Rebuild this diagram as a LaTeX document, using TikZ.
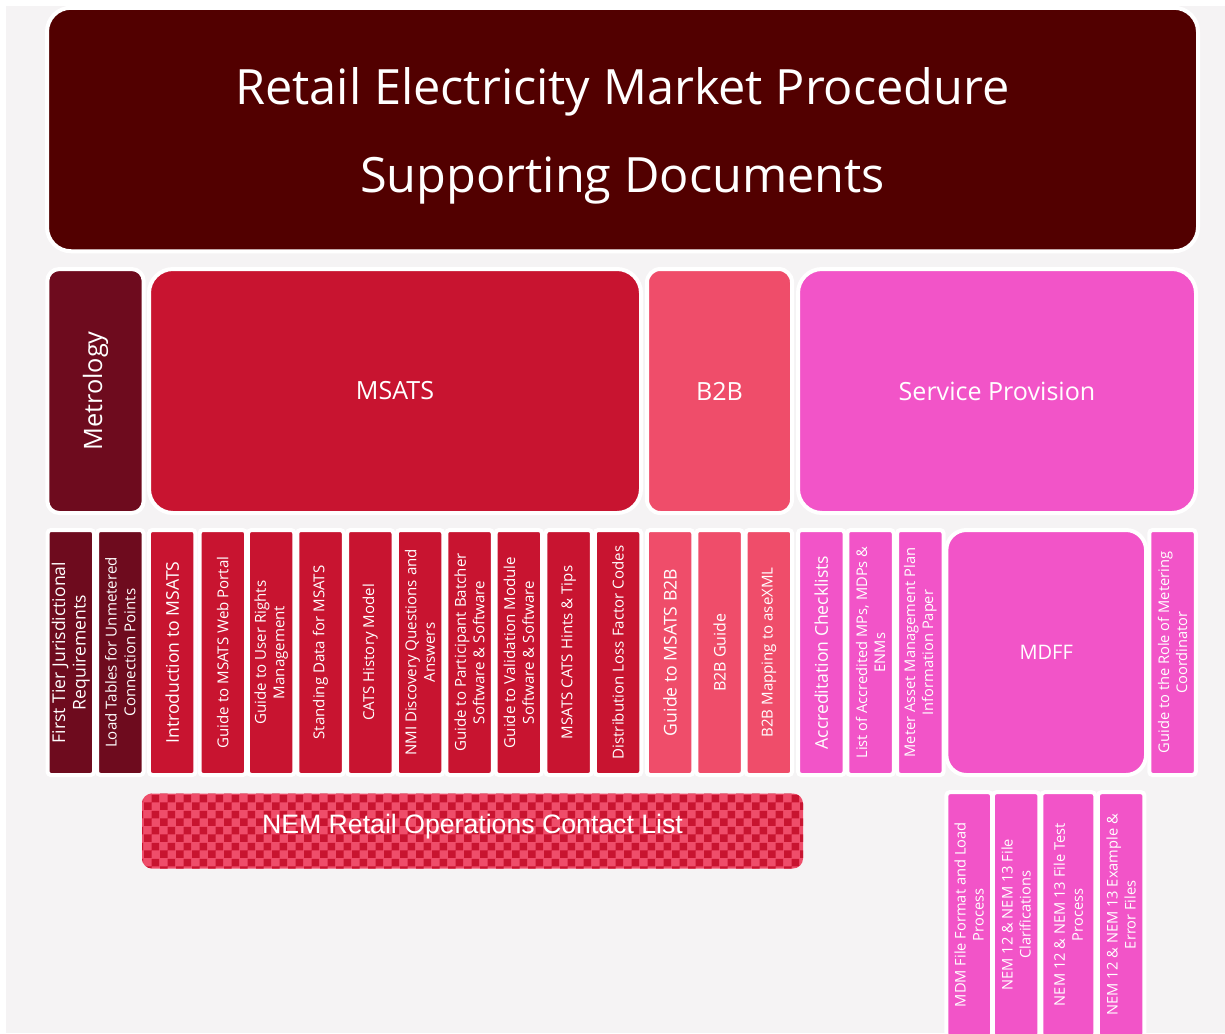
\documentclass[tikz,border=0pt]{standalone}
\usepackage{fontspec}
\setmainfont{Open Sans}
\newfontfamily\arialfont{Liberation Sans}
\usetikzlibrary{patterns}

\definecolor{pagegray}{RGB}{245,243,244}
\definecolor{titlered}{RGB}{82,0,0}
\definecolor{metrored}{RGB}{110,11,30}
\definecolor{msatsred}{RGB}{200,20,48}
\definecolor{btobpink}{RGB}{239,77,106}
\definecolor{servpink}{RGB}{242,84,200}

\pgfdeclarepatternformonly{checks}{\pgfpointorigin}{\pgfqpoint{12pt}{12pt}}{\pgfqpoint{12pt}{12pt}}{%
  \pgfpathrectangle{\pgfpointorigin}{\pgfqpoint{6pt}{6pt}}%
  \pgfpathrectangle{\pgfqpoint{6pt}{6pt}}{\pgfqpoint{6pt}{6pt}}%
  \pgfusepath{fill}}

\tikzset{every picture/.style={line width=0.75pt}}
\tikzset{
  wh/.style 2 args={minimum width=#1*0.75pt, minimum height=#2*0.75pt},
  tile/.style={draw=white, line width=3pt, text=white, align=center, inner sep=0pt},
  col/.style={tile, rotate=90, rounded corners=2.5pt, wh={245}{46.5}},
  big/.style={font=\fontsize{13.2}{15.5}\selectfont},
  mid/.style={font=\fontsize{11.3}{14}\selectfont},
  small/.style={font=\fontsize{11}{13.5}\selectfont},
  head/.style={font=\fontsize{18.8}{22}\selectfont}
}

\begin{document}
\begin{tikzpicture}[x=0.75pt,y=0.75pt,yscale=-1,xscale=1]
\path [use as bounding box] (0,0) rectangle (1225,1033);
%Page background
\fill [pagegray] (6,6) rectangle (1225,1033);

%Rounded Rect: title
\node [tile, fill=titlered, rounded corners=18pt, wh={1151}{243.5}] (title) at (622.5,129.5) {};
% Text Node
\node [text=white, align=center, font=\fontsize{36.5}{66}\selectfont] (titletext) at ([yshift=4.9pt]title.center) {Retail Electricity Market Procedure\\Supporting Documents};

%Rounded Rect: groups
\node [tile, fill=metrored, rotate=90, rounded corners=9pt, wh={244}{96.4}, font=\fontsize{19}{22}\selectfont] (metrology) at (95.5,391) {Metrology};
\node [tile, fill=msatsred, rounded corners=18pt, wh={492}{244}, head] (msats) at (395,391) {MSATS};
\node [tile, fill=btobpink, rounded corners=10pt, wh={145}{244}, head] (btob) at (719.5,391) {B2B};
\node [tile, fill=servpink, rounded corners=18pt, wh={398}{244}, head] (service) at (997,391) {Service Provision};

%Columns: Metrology
\node [col, fill=metrored, big] (firsttier) at (70.8,652.5) {First Tier Jurisdictional\\Requirements};
\node [col, fill=metrored, mid] (loadtables) at (120.3,652.5) {Load Tables for Unmetered\\Connection Points};

%Columns: MSATS
\node [col, fill=msatsred, big] (intro) at (172.2,652.5) {Introduction to MSATS};
\node [col, fill=msatsred, mid] (webportal) at (222.8,652.5) {Guide to MSATS Web Portal};
\node [col, fill=msatsred, mid] (userrights) at (271.2,652.5) {Guide to User Rights\\Management};
\node [col, fill=msatsred, mid] (standing) at (320.5,652.5) {Standing Data for MSATS};
\node [col, fill=msatsred, mid] (history) at (370.3,652.5) {CATS History Model};
\node [col, fill=msatsred, mid] (nmidisc) at (420,652.5) {NMI Discovery Questions and\\Answers};
\node [col, fill=msatsred, mid] (batcher) at (469.5,652.5) {Guide to Participant Batcher\\Software \& Software};
\node [col, fill=msatsred, mid] (validation) at (518.8,652.5) {Guide to Validation Module\\Software \& Software};
\node [col, fill=msatsred, mid] (hints) at (568.7,652.5) {MSATS CATS Hints \& Tips};
\node [col, fill=msatsred, mid] (dlf) at (618,652.5) {Distribution Loss Factor Codes};

%Columns: B2B
\node [col, fill=btobpink, big] (msatsbtob) at (670,652.5) {Guide to MSATS B2B};
\node [col, fill=btobpink, font=\fontsize{12}{15}\selectfont] (btobguide) at (719.5,652.5) {B2B Guide};
\node [col, fill=btobpink, mid] (asexml) at (768.8,652.5) {B2B Mapping to aseXML};

%Columns: Service Provision
\node [col, fill=servpink, big] (accred) at (821.3,652.5) {Accreditation Checklists};
\node [col, fill=servpink, small] (accredlist) at (870.5,652.5) {List of Accredited MPs, MDPs \&\\ENMs};
\node [col, fill=servpink, small] (assetplan) at (920.3,652.5) {Meter Asset Management Plan\\Information Paper};
\node [tile, fill=servpink, rounded corners=15pt, wh={199.7}{245}, font=\fontsize{15}{18}\selectfont] (mdff) at (1046.2,652.5) {MDFF};
\node [col, fill=servpink, small] (mcrole) at (1172.5,652.5) {Guide to the Role of Metering\\Coordinator};

%Columns: MDFF
\node [col, fill=servpink, small, wh={245}{45.7}] (mdmformat) at (969.2,914.7) {MDM File Format and Load\\Process};
\node [col, fill=servpink, small] (nemclar) at (1016.2,914.7) {NEM 12 \& NEM 13 File\\Clarifications};
\node [col, fill=servpink, small, wh={245}{54}] (nemtest) at (1068.3,914.7) {NEM 12 \& NEM 13 File Test\\Process};
\node [col, fill=servpink, small] (nemfiles) at (1121.2,914.7) {NEM 12 \& NEM 13 Example \&\\Error Files};

%Checked bar
\node [rounded corners=7.5pt, preaction={fill=btobpink}, pattern=checks, pattern color=msatsred, wh={661}{75}, inner sep=0pt] (contacts) at (472.5,831) {};
% Text Node
\node [text=white, font=\arialfont\fontsize{20}{23}\selectfont] (contactstext) at ([yshift=-3pt]contacts.center) {NEM Retail Operations Contact List};

\end{tikzpicture}
\end{document}
